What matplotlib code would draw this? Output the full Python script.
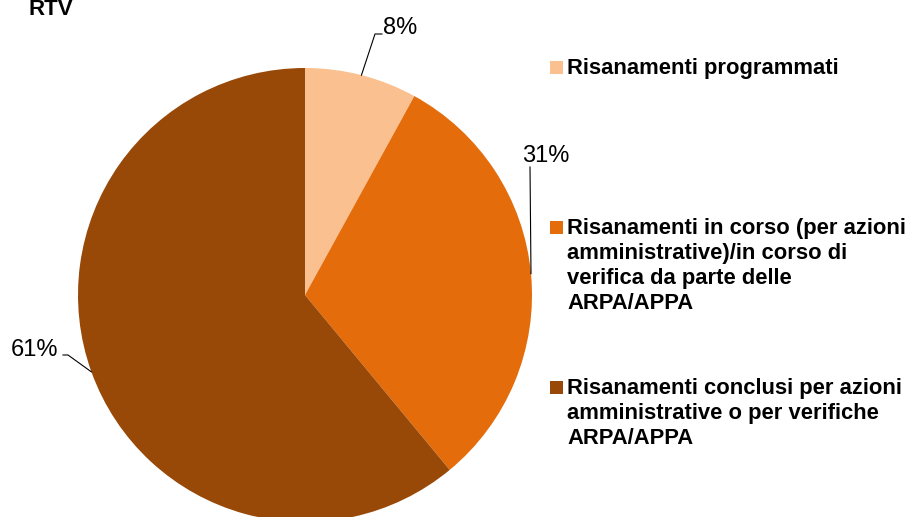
import numpy as np
import matplotlib
matplotlib.use('Agg')
import matplotlib.pyplot as plt
from matplotlib.patches import Rectangle

plt.rcParams['font.family'] = ['Liberation Sans', 'DejaVu Sans']

title = 'RTV'
labels = ['Risanamenti programmati',
          'Risanamenti in corso (per azioni\namministrative)/in corso di\nverifica da parte delle\nARPA/APPA',
          'Risanamenti conclusi per azioni\namministrative o per verifiche\nARPA/APPA']
values = [8, 31, 61]
colors = ['#FAC090', '#E46C0A', '#984807']

W, H = 914, 517
CX, CY, R = 305, 295, 227   # pie centre / radius in pixels


def px(x, y):
  # pixel (top-left origin) -> data units of the pie axes
  return (x - CX) / R, (CY - y) / R


def main():
  fig = plt.figure(figsize=(W / 100, H / 100), dpi=100)
  ax = fig.add_axes([0, 0, 1, 1])
  wedges, _ = ax.pie(values, colors=colors, startangle=90, counterclock=False,
                     radius=1, wedgeprops=dict(linewidth=0))
  ax.set_xlim(px(0, 0)[0], px(W, 0)[0])
  ax.set_ylim(px(0, H)[1], px(0, 0)[1])
  ax.set_aspect('auto')
  ax.axis('off')

  # percent labels with leader lines
  pct = ['{}%'.format(v) for v in values]
  mids = [np.deg2rad((w.theta1 + w.theta2) / 2) for w in wedges]
  edge = [(np.cos(a), np.sin(a)) for a in mids]

  # 8%
  ax.text(*px(383, 34), pct[0], fontsize=17, ha='left', va='baseline')
  p1, p2 = px(375, 34), px(382, 34)
  ax.plot([edge[0][0], p1[0], p2[0]], [edge[0][1], p1[1], p2[1]], color='black', lw=0.8)
  # 31%
  ax.text(*px(546, 162), pct[1], fontsize=17, ha='center', va='baseline')
  p1 = px(530, 167)
  ax.plot([edge[1][0], p1[0]], [edge[1][1], p1[1]], color='black', lw=0.8)
  # 61%
  ax.text(*px(58, 356), pct[2], fontsize=17, ha='right', va='baseline')
  p1, p2 = px(63, 355), px(68, 355)
  ax.plot([p1[0], p2[0], edge[2][0]], [p1[1], p2[1], edge[2][1]], color='black', lw=0.8)

  # title
  ax.text(*px(28, 15), title, fontsize=16, fontweight='bold', ha='left', va='baseline')

  # legend
  base = [74, 234, 394]
  for lab, col, b in zip(labels, colors, base):
    sx, sy = px(550, b)
    ax.add_patch(Rectangle((sx, sy), 13 / R, 13 / R, color=col, lw=0))
    for k, line in enumerate(lab.split('\n')):
      ax.text(*px(567, b + 25 * k), line, fontsize=15.8, fontweight='bold',
              ha='left', va='baseline')

  plt.savefig('out.png', dpi=100)


if __name__ == "__main__":
  main()
